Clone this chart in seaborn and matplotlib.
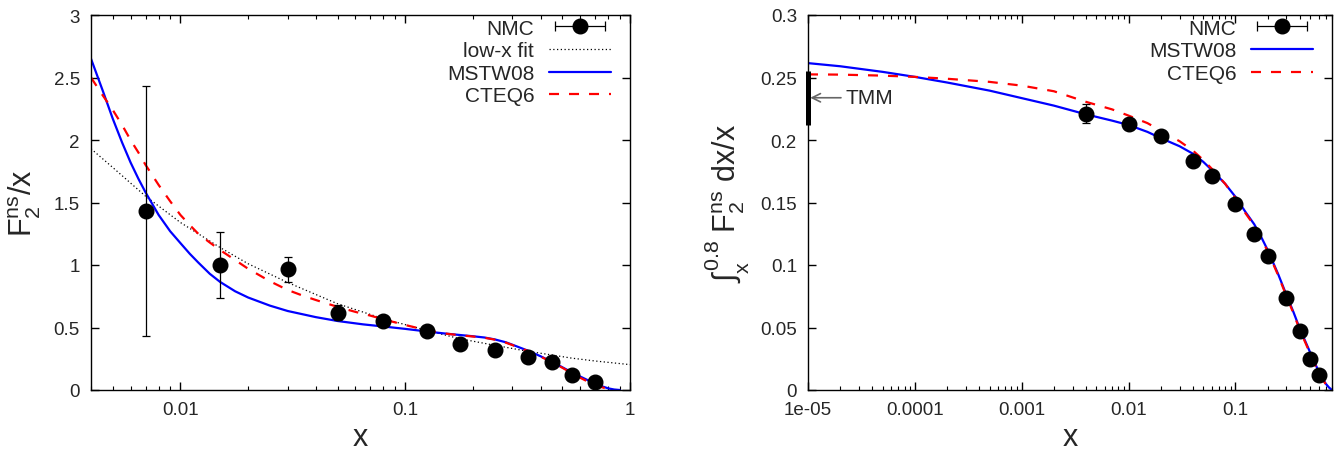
import matplotlib
matplotlib.use('Agg')
import matplotlib.pyplot as plt
import seaborn as sns
from matplotlib.lines import Line2D
from matplotlib.legend_handler import HandlerLine2D, HandlerTuple
from matplotlib.ticker import FixedLocator, FixedFormatter, LogLocator, NullFormatter

# ---- left panel: F2^ns / x ----
nmc_x = [0.007, 0.015, 0.03, 0.05, 0.08, 0.125, 0.175, 0.25, 0.35, 0.45, 0.55, 0.7]
nmc_y = [1.43, 1.00, 0.965, 0.618, 0.553, 0.473, 0.366, 0.324, 0.267, 0.227, 0.120, 0.064]
nmc_err = [1.00, 0.265, 0.098, 0.06, 0.02, 0.02, 0.01, 0.01, 0.01, 0.01, 0.01, 0.01]

fit_x = [0.004, 0.005, 0.007, 0.01, 0.015, 0.02, 0.03, 0.05, 0.08, 0.125, 0.175,
         0.25, 0.35, 0.45, 0.55, 0.7, 1.0]
fit_y = [1.93, 1.78, 1.55, 1.34, 1.14, 1.01, 0.86, 0.69, 0.57, 0.476, 0.41,
         0.358, 0.31, 0.28, 0.255, 0.232, 0.203]

mstw_x = [0.004, 0.0045, 0.005, 0.0055, 0.006, 0.0065, 0.007, 0.008, 0.009, 0.01, 0.011,
          0.012, 0.0135, 0.015, 0.0175, 0.02, 0.025, 0.03, 0.04, 0.05, 0.065, 0.08, 0.1,
          0.125, 0.15, 0.175, 0.2, 0.225, 0.25, 0.28, 0.3, 0.35, 0.4, 0.45, 0.5, 0.55,
          0.6, 0.65, 0.7, 0.75, 0.8, 0.85, 0.9]
mstw_y = [2.65, 2.40, 2.17, 1.98, 1.82, 1.69, 1.58, 1.40, 1.27, 1.175, 1.09,
          1.02, 0.93, 0.865, 0.79, 0.74, 0.675, 0.632, 0.583, 0.552, 0.525, 0.508, 0.489,
          0.468, 0.452, 0.440, 0.430, 0.420, 0.405, 0.382, 0.362, 0.316, 0.270, 0.225, 0.182,
          0.142, 0.108, 0.078, 0.053, 0.030, 0.013, 0.004, 0.0]

cteq_x = [0.004, 0.0045, 0.005, 0.0055, 0.006, 0.0065, 0.007, 0.008, 0.009, 0.01, 0.011,
          0.012, 0.0135, 0.015, 0.0175, 0.02, 0.025, 0.03, 0.035, 0.04, 0.05, 0.06, 0.07,
          0.08, 0.1, 0.125, 0.15, 0.175, 0.2, 0.225, 0.25, 0.28, 0.3, 0.35, 0.4, 0.45,
          0.5, 0.55, 0.6, 0.65, 0.7, 0.75, 0.8, 0.85]
cteq_y = [2.50, 2.36, 2.24, 2.12, 2.00, 1.90, 1.80, 1.64, 1.51, 1.40, 1.32,
          1.25, 1.18, 1.12, 1.04, 0.97, 0.87, 0.80, 0.755, 0.72, 0.665, 0.625, 0.595,
          0.565, 0.52, 0.478, 0.452, 0.438, 0.428, 0.418, 0.403, 0.379, 0.359, 0.313, 0.267, 0.222,
          0.178, 0.135, 0.098, 0.067, 0.042, 0.022, 0.008, 0.0]

# ---- right panel: integral of F2^ns dx/x from x to 0.8 ----
int_x = [0.004, 0.01, 0.02, 0.04, 0.06, 0.1, 0.15, 0.2, 0.3, 0.4, 0.5, 0.6]
int_y = [0.221, 0.213, 0.203, 0.183, 0.171, 0.149, 0.125, 0.107, 0.074, 0.047, 0.025, 0.012]
int_err = [0.0076, 0.004, 0.003, 0.002, 0.002, 0.001, 0.001, 0.001, 0.001, 0.001, 0.001, 0.001]

curve_x = [1e-5, 2e-5, 5e-5, 1e-4, 2e-4, 5e-4, 1e-3, 2e-3, 4e-3, 7e-3, 0.01, 0.015,
           0.02, 0.03, 0.04, 0.05, 0.06, 0.08, 0.1, 0.125, 0.15, 0.175, 0.2, 0.25,
           0.3, 0.35, 0.4, 0.45, 0.5, 0.55, 0.6, 0.65, 0.7, 0.75, 0.8]
mstw_int = [0.2615, 0.259, 0.2545, 0.2505, 0.246, 0.2395, 0.2335, 0.2275, 0.2205, 0.2155, 0.212, 0.2065,
            0.2015, 0.195, 0.189, 0.1825, 0.176, 0.165, 0.1545, 0.142, 0.1325, 0.122, 0.112, 0.093,
            0.076, 0.062, 0.049, 0.039, 0.030, 0.022, 0.015, 0.0095, 0.005, 0.002, 0.0]
cteq_int = [0.2525, 0.2523, 0.2515, 0.2505, 0.249, 0.2465, 0.2435, 0.239, 0.2305, 0.2245, 0.2195, 0.2135,
            0.2075, 0.199, 0.1915, 0.184, 0.177, 0.165, 0.1535, 0.141, 0.1315, 0.121, 0.111, 0.092,
            0.075, 0.061, 0.048, 0.038, 0.029, 0.021, 0.014, 0.009, 0.0045, 0.0015, 0.0]

tmm_x = 1e-5
tmm_val = 0.2338
tmm_err = 0.0216

left_xticks = [0.01, 0.1, 1]
left_xlabels = ['0.01', '0.1', '1']
left_yticks = [0, 0.5, 1, 1.5, 2, 2.5, 3]
left_ylabels = ['0', '0.5', '1', '1.5', '2', '2.5', '3']
right_xticks = [1e-5, 1e-4, 1e-3, 1e-2, 1e-1]
right_xlabels = ['1e-05', '0.0001', '0.001', '0.01', '0.1']
right_yticks = [0, 0.05, 0.1, 0.15, 0.2, 0.25, 0.3]
right_ylabels = ['0', '0.05', '0.1', '0.15', '0.2', '0.25', '0.3']

sns.set_style('ticks')
plt.rcParams['font.family'] = ['Liberation Sans', 'DejaVu Sans']
plt.rcParams['mathtext.fontset'] = 'custom'
plt.rcParams['mathtext.rm'] = 'Liberation Sans'
plt.rcParams['mathtext.it'] = 'Liberation Sans'
plt.rcParams['mathtext.default'] = 'regular'

fig = plt.figure(figsize=(13.35, 4.6), dpi=100)
ax1 = fig.add_axes([91 / 1335, 69 / 460, (630 - 91) / 1335, 375 / 460])
ax2 = fig.add_axes([808 / 1335, 69 / 460, (1332 - 808) / 1335, 375 / 460])

BLUE = '#0000ff'
RED = '#ff0000'
DASH = (0, (4.5, 4.5))
DOTS = (0, (1, 2))


def style_axis(ax):
    ax.set_xscale('log')
    for s in ax.spines.values():
        s.set_visible(True)
        s.set_linewidth(1.0)
        s.set_color('black')
    ax.tick_params(which='both', direction='in', top=True, right=True, labelsize=13.5,
                   color='black', pad=8)
    ax.tick_params(which='major', length=6, width=1)
    ax.tick_params(which='minor', length=3, width=0.8)
    ax.xaxis.set_minor_locator(LogLocator(base=10, subs=range(2, 10), numticks=20))
    ax.xaxis.set_minor_formatter(NullFormatter())


# left panel
style_axis(ax1)
sns.lineplot(x=fit_x, y=fit_y, ax=ax1, color='black', lw=0.9, linestyle=DOTS, sort=False)
sns.lineplot(x=mstw_x, y=mstw_y, ax=ax1, color=BLUE, lw=1.6, sort=False)
sns.lineplot(x=cteq_x, y=cteq_y, ax=ax1, color=RED, lw=1.6, linestyle=DASH, sort=False)
ax1.errorbar(nmc_x, nmc_y, yerr=nmc_err, fmt='o', color='black', ms=10.5, elinewidth=0.9,
             capsize=3, capthick=0.9, zorder=5)
ax1.set_xlim(0.004, 1)
ax1.set_ylim(0, 3)
ax1.xaxis.set_major_locator(FixedLocator(left_xticks))
ax1.xaxis.set_major_formatter(FixedFormatter(left_xlabels))
ax1.yaxis.set_major_locator(FixedLocator(left_yticks))
ax1.yaxis.set_major_formatter(FixedFormatter(left_ylabels))
ax1.set_xlabel('x', fontsize=22, labelpad=3)
ax1.set_ylabel(r'F$_2^{ns}$/x', fontsize=22, labelpad=8)

# right panel
style_axis(ax2)
sns.lineplot(x=curve_x, y=mstw_int, ax=ax2, color=BLUE, lw=1.6, sort=False)
sns.lineplot(x=curve_x, y=cteq_int, ax=ax2, color=RED, lw=1.6, linestyle=DASH, sort=False)
ax2.errorbar(int_x, int_y, yerr=int_err, fmt='o', color='black', ms=10.5, elinewidth=0.9,
             capsize=3, capthick=0.9, zorder=5)
ax2.plot([tmm_x, tmm_x], [tmm_val - tmm_err, tmm_val + tmm_err], color='black', lw=3.6,
         solid_capstyle='butt', zorder=6, clip_on=False)
ax2.annotate('TMM', xy=(tmm_x * 1.05, tmm_val), xytext=(2.25e-5, tmm_val), fontsize=15,
             va='center', ha='left',
             arrowprops=dict(arrowstyle='->', color='#666666', lw=1.2, shrinkA=1, shrinkB=0))
ax2.set_xlim(1e-5, 0.8)
ax2.set_ylim(0, 0.3)
ax2.xaxis.set_major_locator(FixedLocator(right_xticks))
ax2.xaxis.set_major_formatter(FixedFormatter(right_xlabels))
ax2.yaxis.set_major_locator(FixedLocator(right_yticks))
ax2.yaxis.set_major_formatter(FixedFormatter(right_ylabels))
ax2.set_xlabel('x', fontsize=22, labelpad=3)
ax2.set_ylabel(r'$\int_x^{0.8}$ F$_2^{ns}$ dx/x', fontsize=22, labelpad=6)

# gnuplot-like legends: text on the left, sample on the right
caps = Line2D([], [], color='black', lw=0.9, marker='|', ms=7, mew=0.9)
dot = Line2D([], [], color='black', lw=0, marker='o', ms=10.5)
nmc_handle = (caps, dot)
hmap = {caps: HandlerLine2D(numpoints=2), dot: HandlerLine2D(numpoints=1),
        tuple: HandlerTuple(ndivide=1, pad=0)}
fit_h = Line2D([], [], color='black', lw=0.9, linestyle=DOTS)
mstw_h = Line2D([], [], color=BLUE, lw=1.6)
cteq_h = Line2D([], [], color=RED, lw=1.6, linestyle=DASH)

leg_kw = dict(loc='upper right', bbox_to_anchor=(1.0, 1.0 + 15 / 375), frameon=False,
              markerfirst=False, fontsize=15, handlelength=3.0, handletextpad=0.7,
              labelspacing=0.17, borderaxespad=0.5, handler_map=hmap)
ax1.legend([nmc_handle, fit_h, mstw_h, cteq_h], ['NMC', 'low-x fit', 'MSTW08', 'CTEQ6'], **leg_kw)
ax2.legend([nmc_handle, mstw_h, cteq_h], ['NMC', 'MSTW08', 'CTEQ6'], **leg_kw)

fig.savefig('out.png', dpi=100)
